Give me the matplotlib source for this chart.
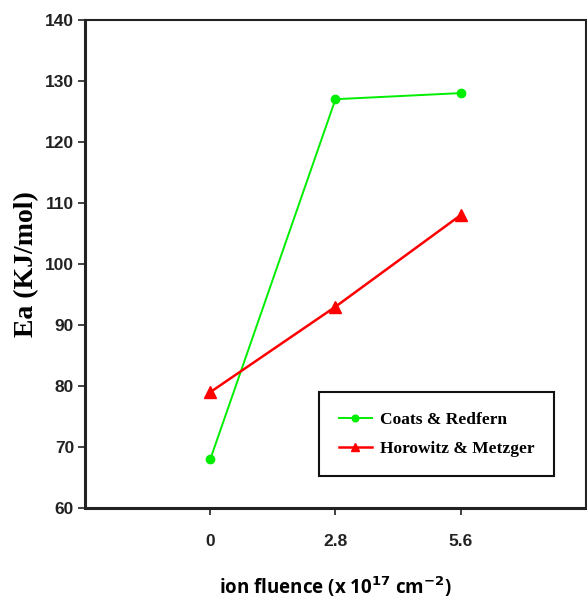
import matplotlib
matplotlib.use("Agg")
import matplotlib.pyplot as plt
from matplotlib.font_manager import FontProperties

fluence = [0, 2.8, 5.6]
tick_labels = ["0", "2.8", "5.6"]
coats_redfern = [68, 127, 128]
horowitz_metzger = [79, 93, 108]

fig = plt.figure(figsize=(5.87, 6.02), dpi=100)
ax = fig.add_axes([0.145, 0.156, 0.853, 0.811])

ax.plot(fluence, coats_redfern, color="#00ee00", lw=1.4, marker="o", ms=6,
        label="Coats & Redfern")
ax.plot(fluence, horowitz_metzger, color="#ff0000", lw=1.8, marker="^", ms=8,
        label="Horowitz & Metzger")

ax.set_xlim(-2.8, 8.4)
ax.set_ylim(60, 140)
ax.set_xticks(fluence)
ax.set_xticklabels(tick_labels)
ax.set_yticks(range(60, 141, 10))

fp = FontProperties(family=["Liberation Sans", "DejaVu Sans"], weight="bold", size=12.5)
for lab in ax.get_xticklabels() + ax.get_yticklabels():
    lab.set_fontproperties(fp)
    lab.set_color("#222222")

ax.tick_params(axis="both", direction="out", length=5, width=1.2, color="#222222",
               top=False, right=False)
ax.tick_params(axis="x", pad=14)
ax.tick_params(axis="y", pad=3)

ax.spines["left"].set_linewidth(2.2)
ax.spines["bottom"].set_linewidth(2.2)
ax.spines["top"].set_linewidth(1.5)
ax.spines["right"].set_linewidth(1.5)
for s in ax.spines.values():
    s.set_color("#222222")

ax.set_ylabel("Ea (KJ/mol)", family=["Liberation Serif", "DejaVu Serif"],
              weight="bold", size=20, labelpad=4)
ax.set_xlabel(r"ion fluence (x 10$^{\mathbf{17}}$ cm$^{\mathbf{-2}}$)",
              family=["Open Sans", "DejaVu Sans"], weight="bold", size=13.5, labelpad=18)

leg = ax.legend(loc="lower right", bbox_to_anchor=(0.936, 0.066), borderaxespad=0,
                frameon=True, fancybox=False, edgecolor="#111111", framealpha=1,
                prop=dict(family=["Liberation Serif", "DejaVu Serif"], weight="bold", size=12.5),
                handlelength=1.9, borderpad=1.1, labelspacing=0.75, markerscale=0.8,
                handletextpad=0.5)
leg.get_frame().set_linewidth(1.5)

fig.savefig("out.png", dpi=100)
